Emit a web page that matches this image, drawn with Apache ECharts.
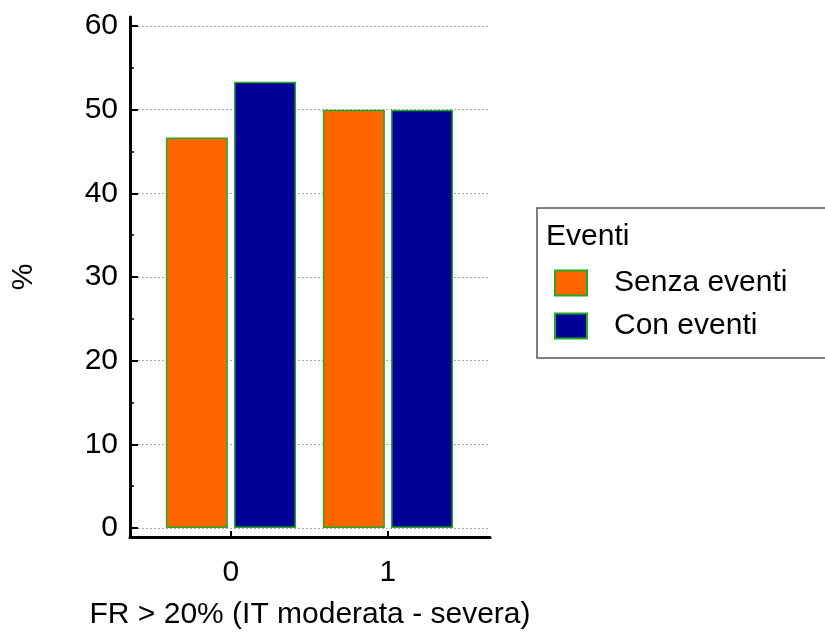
<!DOCTYPE html>
<html>
<head>
<meta charset="utf-8">
<script src="https://cdn.jsdelivr.net/npm/echarts@6/dist/echarts.min.js"></script>
<style>
  html, body { margin: 0; padding: 0; background: #fff; }
  #chart { width: 825px; height: 642px; }
</style>
</head>
<body>
<div id="chart"></div>
<script>
// Groups on the horizontal axis and the percentage of each group per series
const groups = [0, 1];
const seriesNames = ['Senza eventi', 'Con eventi'];
const senzaEventi = [46.67, 50.0];
const conEventi = [53.33, 50.0];

const FONT = 'Liberation Sans, Arial, sans-serif';
const FS = 30;
const GREEN = '#22aa22';

const chart = echarts.init(document.getElementById('chart'), null, { renderer: 'canvas' });

const toPoints = vals => groups.map((g, i) => [g, vals[i]]);

chart.setOption({
  animation: false,
  backgroundColor: '#ffffff',
  textStyle: { fontFamily: FONT },
  title: {
    text: 'Eventi',
    left: 546,
    top: 222,
    padding: 0,
    textStyle: { fontFamily: FONT, fontSize: FS, fontWeight: 'normal', color: '#000' }
  },
  legend: {
    orient: 'vertical',
    left: 537,
    top: 208,
    padding: [60, 60, 17, 17],
    itemWidth: 32,
    itemHeight: 25,
    itemGap: 13,
    icon: 'rect',
    borderColor: '#555',
    borderWidth: 1.5,
    data: seriesNames,
    textStyle: { fontFamily: FONT, fontSize: FS, color: '#000', lineHeight: 25, padding: [0, 0, 0, 22] }
  },
  grid: [
    { left: 130, right: 335, top: 26, bottom: 114, containLabel: false },
    { left: 130, right: 335, top: 17, bottom: 106, containLabel: false }
  ],
  xAxis: [
    {
      gridIndex: 0,
      type: 'value',
      min: -0.643,
      max: 1.65,
      offset: 9,
      axisLine: { show: true, onZero: false, lineStyle: { color: '#000', width: 3 } },
      axisTick: { show: true, inside: true, length: 6, customValues: groups, lineStyle: { color: '#000', width: 2 } },
      axisLabel: { show: true, customValues: groups, fontSize: FS, color: '#000', margin: 21, fontFamily: FONT },
      splitLine: { show: false },
      name: 'FR > 20% (IT moderata - severa)',
      nameLocation: 'middle',
      nameGap: 63,
      nameTextStyle: { fontSize: FS, color: '#000', fontFamily: FONT }
    },
    { gridIndex: 1, type: 'value', min: 0, max: 1, show: false }
  ],
  yAxis: [
    {
      gridIndex: 0,
      type: 'value',
      min: 0,
      max: 60,
      interval: 10,
      axisLine: { show: false, onZero: false },
      axisTick: { show: true, inside: true, length: 8, lineStyle: { color: '#000', width: 2 } },
      minorTick: { show: true, splitNumber: 2, length: 4, lineStyle: { color: '#000', width: 1.5 } },
      axisLabel: { fontSize: FS, color: '#000', margin: 12, fontFamily: FONT },
      splitLine: { show: true, lineStyle: { color: '#aaaaaa', width: 1, type: [2, 2] } },
      name: '%',
      nameLocation: 'middle',
      nameRotate: 90,
      nameGap: 91,
      nameTextStyle: { fontSize: FS, color: '#000', fontFamily: FONT }
    },
    {
      gridIndex: 1,
      type: 'value',
      min: 0,
      max: 1,
      axisLine: { show: true, onZero: false, lineStyle: { color: '#000', width: 3 } },
      axisTick: { show: false },
      axisLabel: { show: false },
      splitLine: { show: false }
    }
  ],
  series: [
    {
      name: seriesNames[0],
      type: 'bar',
      xAxisIndex: 0,
      yAxisIndex: 0,
      data: toPoints(senzaEventi),
      barWidth: 62,
      barGap: '10%',
      itemStyle: { color: '#ff6600', borderColor: GREEN, borderWidth: 1.5 }
    },
    {
      name: seriesNames[1],
      type: 'bar',
      xAxisIndex: 0,
      yAxisIndex: 0,
      data: toPoints(conEventi),
      barWidth: 62,
      barGap: '10%',
      itemStyle: { color: '#000099', borderColor: GREEN, borderWidth: 1.5 }
    }
  ]
});
</script>
</body>
</html>
